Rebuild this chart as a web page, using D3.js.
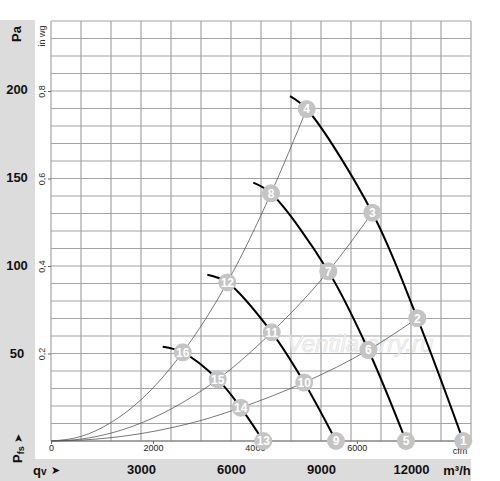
<!DOCTYPE html>
<html>
<head>
<meta charset="utf-8">
<script src="https://cdn.jsdelivr.net/npm/d3@7"></script>
<style>
  body { margin: 0; background: #fff; }
  text { font-family: "Liberation Sans", Arial, sans-serif; }
</style>
</head>
<body>
<div id="plot"></div>
<script>
// operating points 1..16 (flow in m3/h, static pressure in Pa)
const pointNo = [1, 2, 3, 4, 5, 6, 7, 8, 9, 10, 11, 12, 13, 14, 15, 16];
const pointQ = [13743, 12210, 10710, 8523, 11833, 10577, 9243, 7333,
                9500, 8440, 7357, 5877, 7077, 6323, 5557, 4390];
const pointP = [0, 69.9, 130.0, 189.0, 0, 51.8, 96.6, 141.0,
                0, 33.3, 61.9, 90.3, 0, 19.0, 35.1, 50.5];

// fan curves: a free start point, then the numbered points along it
const fanStartQ = [7967, 6743, 5210, 3723];
const fanStartP = [196.4, 147.1, 94.7, 53.7];
const fanPoints = [[4, 3, 2, 1], [8, 7, 6, 5], [12, 11, 10, 9], [16, 15, 14, 13]];

// system curves read near the origin, then the numbered points
const sysLowQ = [0, 1000, 2000, 3000, 4000, 5000];
const sysSteepP = [0, 2.6, 10.5, 23.5];
const sysMidP = [0, 1.1, 4.5, 10.2, 18.2];
const sysFlatP = [0, 0.5, 1.9, 4.2, 7.5, 11.7];
const sysPoints = [[16, 12, 8, 4], [15, 11, 7, 3], [14, 10, 6, 2]];

// tick labels
const paTicks = [50, 100, 150, 200];
const inwgTicks = [0.2, 0.4, 0.6, 0.8];
const cfmTicks = [0, 2000, 4000, 6000];
const m3hTicks = [3000, 6000, 9000, 12000];

const w = 500;
const h = 481;
const plotL = 51, plotR = 471, plotT = 21, plotB = 441;

const svg = d3.select("div#plot")
  .append("svg")
  .attr("width", w)
  .attr("height", h);

// grey bands
svg.append("rect").attr("x", 0).attr("y", 20).attr("width", 35).attr("height", h - 20).attr("fill", "#dcdcdc");
svg.append("rect").attr("x", 0).attr("y", 459).attr("width", 471).attr("height", 22).attr("fill", "#dcdcdc");

const x = d3.scaleLinear().domain([0, 14000]).range([plotL, plotR]);
const yIn = d3.scaleLinear().domain([0, 0.96]).range([plotB, plotT]);
const y = d3.scaleLinear().domain([0, 0.96 * 249.09]).range([plotB, plotT]);
const xCfm = d3.scaleLinear().domain([0, 14000 / 1.699]).range([plotL, plotR]);

// grid
const grid = svg.append("g").attr("stroke", "#a4a4a4").attr("stroke-width", 1.2);
grid.selectAll("line.v")
  .data(d3.range(0, 14001, 1000))
  .enter().append("line")
  .attr("x1", d => x(d)).attr("x2", d => x(d))
  .attr("y1", plotT).attr("y2", plotB);
grid.selectAll("line.h")
  .data(d3.range(0, 25).map(i => i * 0.04))
  .enter().append("line")
  .attr("x1", plotL).attr("x2", plotR)
  .attr("y1", d => yIn(d)).attr("y2", d => yIn(d));
svg.append("line").attr("x1", plotL).attr("x2", plotR)
  .attr("y1", plotB).attr("y2", plotB)
  .attr("stroke", "#777").attr("stroke-width", 1.2);

// watermark
svg.append("text")
  .attr("x", 360).attr("y", 352)
  .attr("text-anchor", "middle")
  .attr("font-size", 24).attr("font-style", "italic")
  .attr("fill", "#f2f2f2").attr("stroke", "#d8d8d8").attr("stroke-width", 0.6)
  .attr("opacity", 0.8)
  .text("Ventilatorry.ru");

const pt = n => [pointQ[n - 1], pointP[n - 1]];

// system curves
const sysLine = d3.line().x(d => x(d[0])).y(d => y(d[1])).curve(d3.curveMonotoneX);
const sysLow = [sysSteepP, sysMidP, sysFlatP];
sysPoints.forEach((ids, i) => {
  const data = sysLow[i].map((p, j) => [sysLowQ[j], p]).concat(ids.map(pt));
  svg.append("path")
    .datum(data)
    .attr("d", sysLine)
    .attr("fill", "none")
    .attr("stroke", "#555")
    .attr("stroke-width", 0.8);
});

// fan curves
const fanLine = d3.line().x(d => x(d[0])).y(d => y(d[1])).curve(d3.curveCatmullRom);
fanPoints.forEach((ids, i) => {
  const data = [[fanStartQ[i], fanStartP[i]]].concat(ids.map(pt));
  svg.append("path")
    .datum(data)
    .attr("d", fanLine)
    .attr("fill", "none")
    .attr("stroke", "#000")
    .attr("stroke-width", 2);
});

// left axes
const inAxis = svg.append("g")
  .attr("transform", `translate(${plotL},0)`)
  .call(d3.axisLeft(yIn).tickValues(inwgTicks).tickSize(3)
    .tickFormat(d => d3.format(".1f")(d).replace(".", ",")));
inAxis.select(".domain").remove();
inAxis.selectAll("line").attr("stroke", "#666");
inAxis.selectAll("text")
  .attr("font-size", 9).attr("fill", "#333")
  .attr("x", 0).attr("dy", 0)
  .attr("text-anchor", "middle")
  .attr("transform", "translate(-6,0) rotate(-90)");

svg.append("text")
  .attr("transform", "translate(45,36) rotate(-90)")
  .attr("text-anchor", "middle")
  .attr("font-size", 9).attr("fill", "#333")
  .text("in wg");

const paAxis = svg.append("g")
  .attr("transform", "translate(17,0)")
  .call(d3.axisLeft(y).tickValues(paTicks).tickSize(0));
paAxis.select(".domain").remove();
paAxis.selectAll("text")
  .attr("x", 0).attr("text-anchor", "middle")
  .attr("font-size", 13).attr("font-weight", "bold").attr("fill", "#111");

svg.append("text")
  .attr("transform", "translate(21,34) rotate(-90)")
  .attr("text-anchor", "middle")
  .attr("font-size", 13).attr("font-weight", "bold").attr("fill", "#111")
  .text("Pa");

// Pfs label
svg.append("text")
  .attr("transform", "translate(22,438) rotate(-90)")
  .attr("text-anchor", "middle")
  .attr("font-size", 11).attr("fill", "#111")
  .text("➤");
const pfs = svg.append("text")
  .attr("transform", "translate(22,463) rotate(-90)")
  .attr("font-size", 13).attr("font-weight", "bold").attr("fill", "#111");
pfs.append("tspan").text("P");
pfs.append("tspan").attr("font-size", 9).attr("dy", 2).text("fs");

// bottom axes
const cfmAxis = svg.append("g")
  .attr("transform", `translate(0,${plotB})`)
  .call(d3.axisBottom(xCfm).tickValues(cfmTicks).tickSize(3).tickPadding(1)
    .tickFormat(d3.format("d")));
cfmAxis.select(".domain").remove();
cfmAxis.selectAll("line").attr("stroke", "#666");
cfmAxis.selectAll("text").attr("font-size", 9).attr("fill", "#222");
svg.append("text")
  .attr("x", 460).attr("y", 454)
  .attr("text-anchor", "middle")
  .attr("font-size", 9).attr("fill", "#222")
  .text("cfm");

const m3Axis = svg.append("g")
  .attr("transform", "translate(0,465)")
  .call(d3.axisBottom(x).tickValues(m3hTicks).tickSize(0).tickPadding(0)
    .tickFormat(d3.format("d")));
m3Axis.select(".domain").remove();
m3Axis.selectAll("text")
  .attr("font-size", 13).attr("font-weight", "bold").attr("fill", "#111");
svg.append("text")
  .attr("x", 457).attr("y", 475)
  .attr("text-anchor", "middle")
  .attr("font-size", 13).attr("font-weight", "bold").attr("fill", "#111")
  .text("m³/h");

const qv = svg.append("text")
  .attr("x", 33).attr("y", 475)
  .attr("font-size", 13).attr("font-weight", "bold").attr("fill", "#111");
qv.append("tspan").text("q");
qv.append("tspan").attr("font-size", 10).text("v");
svg.append("text")
  .attr("x", 51).attr("y", 474)
  .attr("font-size", 11).attr("fill", "#111")
  .text("➤");

// numbered markers
const marks = svg.selectAll("g.mark")
  .data(pointNo)
  .enter().append("g")
  .attr("class", "mark")
  .attr("transform", n => `translate(${x(pointQ[n - 1])},${y(pointP[n - 1])})`);
marks.append("circle")
  .attr("r", 9)
  .attr("fill", "#c4c4c4");
marks.append("text")
  .attr("text-anchor", "middle")
  .attr("dy", "0.36em")
  .attr("font-size", 12).attr("font-weight", "bold")
  .attr("fill", "#fff")
  .text(n => n);
</script>
</body>
</html>
